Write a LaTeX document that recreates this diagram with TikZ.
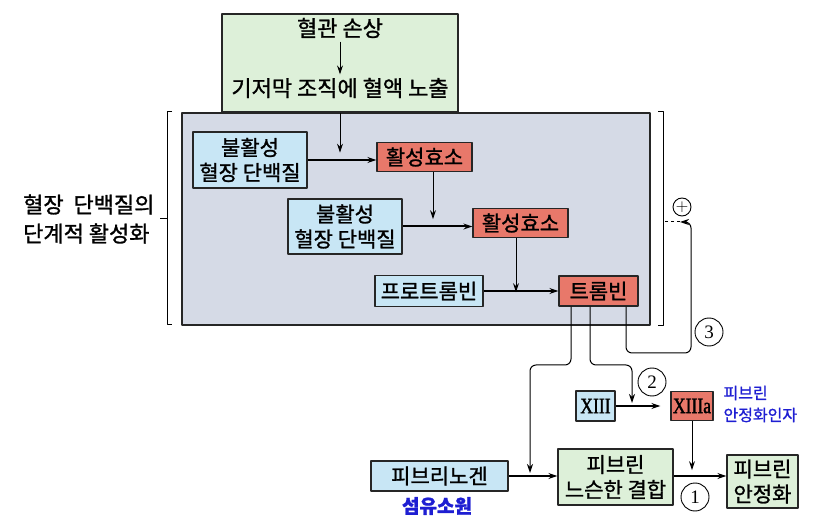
\documentclass[tikz,border=0pt]{standalone}
\usepackage{fontspec}
\setmainfont[FakeBold=1.2]{Noto Sans CJK KR}
\newfontfamily\numfont{Liberation Serif}
\newfontfamily\romfont[FakeStretch=0.8,FakeBold=1.5]{Liberation Serif}
\usetikzlibrary{arrows.meta}
\definecolor{greenbg}{RGB}{221,240,217}
\definecolor{greybg}{RGB}{213,218,230}
\definecolor{inblue}{RGB}{200,230,245}
\definecolor{actred}{RGB}{232,120,106}
\definecolor{labelblue}{RGB}{30,30,210}
\begin{document}
\begin{tikzpicture}[x=1pt,y=-1pt, font=\fontsize{21}{25}\selectfont, line join=round, >={Stealth[length=9pt,width=6pt]},
  box/.style={draw=black!85, line width=1.3pt, inner sep=0pt, align=center},
  inact/.style={box, fill=inblue},
  actbox/.style={box, fill=actred},
  fibbox/.style={box, fill=greenbg},
  numcirc/.style={draw, circle, line width=0.9pt, minimum size=28pt, inner sep=0pt, font=\numfont\fontsize{19}{19}\selectfont},
  flow/.style={->, line width=2pt},
  feed/.style={->, line width=1pt}]
\useasboundingbox (0,0) rectangle (820,529);
\node[box, fill=greybg, minimum width=468pt, minimum height=212pt] (stage) at (416,219) {};
\node[fibbox, minimum width=236pt, minimum height=98pt] (hurt) at (340,63) {};
\node[font=\fontsize{22}{25}\selectfont] (damage) at (340,28) {혈관 손상};
\node[font=\fontsize{22}{25}\selectfont] (expose) at (340,88) {기저막 조직에 혈액 노출};
\draw[feed] (damage) -- (expose);
\draw[line width=1pt] (172,112) -- (167,112) -- (167,325) -- (172,325);
\draw[line width=1pt] (167,219) -- (160,219);
\draw[line width=1pt] (658,112) -- (663,112) -- (663,326) -- (658,326);
\node[anchor=east, align=left, font=\fontsize{22}{29}\selectfont] (stagelbl) at (158,219) {혈장~~단백질의\\단계적 활성화};
\node[inact, minimum width=114pt, minimum height=56pt] (inact1) at (250,160) {불활성\\혈장 단백질};
\node[actbox, minimum width=95pt, minimum height=29pt] (act1) at (424.5,157) {활성효소};
\node[inact, minimum width=114pt, minimum height=55pt] (inact2) at (345,226.5) {불활성\\혈장 단백질};
\node[actbox, minimum width=95pt, minimum height=29pt] (act2) at (520.5,223) {활성효소};
\node[inact, minimum width=108pt, minimum height=31pt] (pro) at (429,291) {프로트롬빈};
\node[actbox, minimum width=79pt, minimum height=30pt] (thr) at (598.5,291) {트롬빈};
\draw[feed] (hurt.south) -- ++(0,40);
\draw[flow] (inact1.east) -- (act1.west |- inact1.east);
\draw[feed] ([xshift=8.5pt]act1.south) -- ++(0,47);
\draw[flow] (inact2.east) -- (act2.west |- inact2.east);
\draw[feed] ([xshift=-4.5pt]act2.south) -- ++(0,54);
\draw[flow] (pro) -- (thr);
\node[inact, minimum width=39pt, minimum height=30pt, font=\romfont\fontsize{22}{22}\selectfont] (xiii) at (595.5,406) {XIII};
\node[actbox, minimum width=42pt, minimum height=29pt, font=\romfont\fontsize{22}{22}\selectfont] (xiiia) at (692,406) {XIIIa};
\node[anchor=west, align=left, text=labelblue, font=\fontsize{16}{22}\selectfont] (xiiiname) at (720,404) {피브린\\안정화인자};
\node[text=labelblue, font=\bfseries\fontsize{19}{19}\selectfont] (fgnname) at (437,506) {섬유소원};
\node[inact, minimum width=137pt, minimum height=30pt] (fgn) at (439.5,476) {피브리노겐};
\node[fibbox, minimum width=115pt, minimum height=56pt] (loose) at (615.5,477) {피브린\\느슨한 결합};
\node[fibbox, minimum width=71pt, minimum height=53pt] (stab) at (762.5,481.5) {피브린\\안정화};
\coordinate (fgnjoin) at (530,473);
\coordinate (xiiijoin) at (632,403);
\coordinate (plusjoin) at (680,222);
\draw[feed, rounded corners=6pt] ([xshift=-27.5pt]thr.south) |- (fgnjoin |- 0,365) -- (fgnjoin);
\draw[feed, rounded corners=6pt] ([xshift=-8.5pt]thr.south) |- (xiiijoin |- 0,365) -- (xiiijoin);
\draw[feed, rounded corners=6pt] ([xshift=27.5pt]thr.south) |- (691,353) |- (plusjoin);
\draw[dashed, line width=1pt] (plusjoin) -- (plusjoin -| 663,0);
\node[draw, circle, line width=0.9pt, minimum size=18pt, inner sep=0pt, font=\fontsize{16}{16}\selectfont] (plus) at (682,207) {$+$};
\draw[flow, shorten >=10pt] (xiii.east) -- (xiiia.west);
\draw[feed] (xiiia.south) -- ++(0,49);
\draw[flow] (fgn.east) -- (loose.west |- fgn.east);
\draw[flow] (loose.east |- fgn.east) -- (stab.west |- fgn.east);
\node[numcirc] (step1) at (695,497) {1};
\node[numcirc] (step2) at (652,382) {2};
\node[numcirc] (step3) at (709,332) {3};
\end{tikzpicture}
\end{document}
